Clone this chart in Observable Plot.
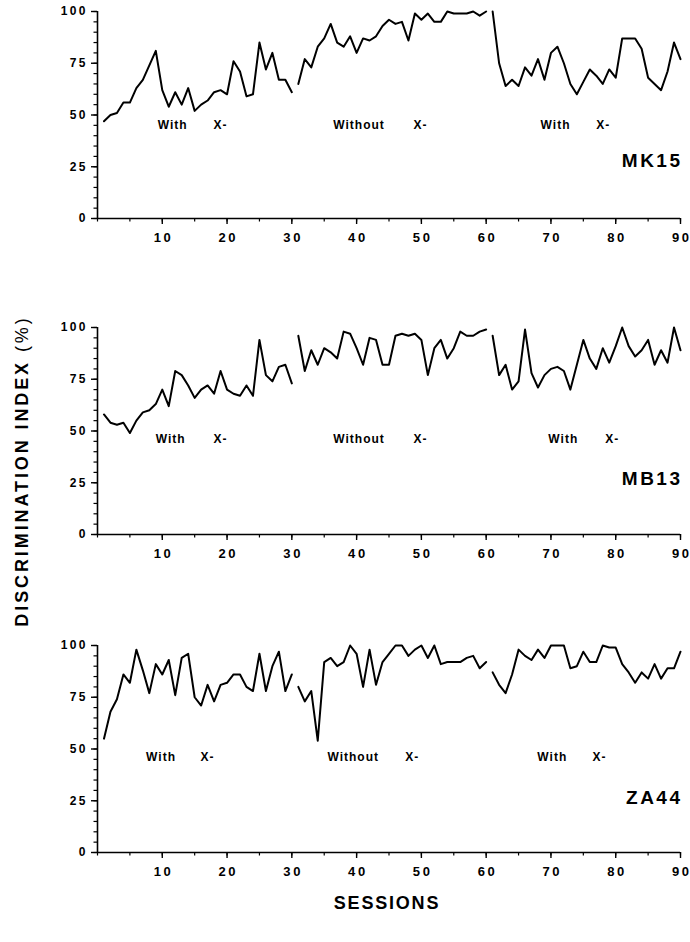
<!DOCTYPE html>
<html><head><meta charset="utf-8">
<script src="https://cdn.jsdelivr.net/npm/d3@7"></script>
<script src="https://cdn.jsdelivr.net/npm/@observablehq/plot@0.6"></script>
<style>
body{margin:0;background:#fff;}
#wrap{position:relative;width:690px;height:942px;overflow:hidden;font-family:"Liberation Sans",Arial,sans-serif;color:#000;}
.panel{position:absolute;left:0;}
.ylab{position:absolute;left:-178px;top:461px;width:400px;height:20px;line-height:20px;text-align:center;transform:rotate(-90deg);white-space:nowrap;font-weight:bold;font-size:18px;letter-spacing:2.9px;}
.ylab span{font-weight:normal;}
.xlab{position:absolute;left:187px;top:893px;width:400px;text-align:center;font-weight:bold;font-size:18px;letter-spacing:1.8px;}
</style>
</head><body>
<div id="wrap">
  <div class="ylab">DISCRIMINATION INDEX <span>(%)</span></div>
  <div class="xlab">SESSIONS</div>
</div>
<script>
// ---- data ----
const sessions = d3.range(1, 91);
const phaseNames = ["With X- (1)", "Without X-", "With X- (2)"];
const subjects = ["MK15", "MB13", "ZA44"];

const mk15 = [47,50,51,56,56,63,67,74,81,62,54,61,55,63,52,55,57,61,62,60,76,71,59,60,85,72,80,67,67,61,
              65,77,73,83,87,94,85,83,88,80,87,86,88,93,96,94,95,86,99,96,99,95,95,100,99,99,99,100,98,100,
              100,75,64,67,64,73,69,77,67,80,83,75,65,60,66,72,69,65,72,68,87,87,87,82,68,65,62,71,85,77];
const mb13 = [58,54,53,54,49,55,59,60,63,70,62,79,77,72,66,70,72,68,79,70,68,67,72,67,94,77,74,81,82,73,
              96,79,89,82,90,88,85,98,97,90,82,95,94,82,82,96,97,96,97,94,77,90,94,85,90,98,96,96,98,99,
              96,77,82,70,74,99,78,71,77,80,81,79,70,82,94,85,80,90,83,91,100,91,86,89,94,82,89,83,100,89];
const za44 = [55,68,74,86,82,98,88,77,91,86,93,76,94,96,75,71,81,73,81,82,86,86,80,78,96,78,90,97,78,86,
              80,73,78,54,92,94,90,92,100,96,80,98,81,92,96,100,100,95,98,100,94,100,91,92,92,92,94,95,89,92,
              87,81,77,86,98,95,93,98,94,100,100,100,89,90,97,92,92,100,99,99,91,87,82,87,84,91,84,89,89,97];

const yTicks = [0, 25, 50, 75, 100];
const yMinor = d3.range(0, 101, 5);
const xTicks = [10, 20, 30, 40, 50, 60, 70, 80, 90];
const xMinor = d3.range(0, 91, 5);

const annotTexts = ["With", "X-", "Without", "X-", "With", "X-"];
const annotX = {
  MK15: [9.3, 17.9, 36.4, 48.8, 68.4, 77.0],
  MB13: [9.0, 17.9, 36.4, 48.8, 69.6, 78.4],
  ZA44: [7.5, 15.9, 35.5, 47.5, 67.9, 76.4]
};
const annotY = {MK15: 45, MB13: 46, ZA44: 46};
const labelY = {MK15: 28, MB13: 27, ZA44: 26.6};
const seriesBySubject = {MK15: mk15, MB13: mb13, ZA44: za44};
const panelTop = {MK15: 0, MB13: 316, ZA44: 634};

const FONT = "Liberation Sans, Arial, Helvetica, sans-serif";
// spaced digits like the original typewriter-style tick labels
const spaced = d => String(d).split("").join("\u2009");

function makePanel(subj) {
  const vals = seriesBySubject[subj];
  const data = sessions.map((s, i) => ({session: s, value: vals[i], phase: phaseNames[Math.floor(i / 30)]}));
  const ann = annotTexts.map((t, i) => ({text: t, x: annotX[subj][i], y: annotY[subj]}));
  const svg = Plot.plot({
    width: 690, height: 258,
    marginTop: 11, marginBottom: 40, marginLeft: 97, marginRight: 10,
    x: {domain: [0, 90]},
    y: {domain: [0, 100]},
    style: {fontFamily: FONT, background: "transparent", overflow: "visible", color: "black"},
    marks: [
      Plot.axisY({ticks: yMinor, tickSize: 3.5, tickFormat: () => "", label: null, strokeWidth: 1.2}),
      Plot.axisY({ticks: yTicks, tickSize: 6, tickPadding: 6, tickFormat: spaced, label: null, fontSize: 12, fontWeight: "bold", strokeWidth: 1.4}),
      Plot.axisX({ticks: xMinor, tickSize: 3.5, tickFormat: () => "", label: null, strokeWidth: 1.2}),
      Plot.axisX({ticks: xTicks, tickSize: 6, tickPadding: 8, tickFormat: spaced, label: null, fontSize: 13, fontWeight: "bold", strokeWidth: 1.4}),
      Plot.ruleX([0], {y1: 0, y2: 100, stroke: "black", strokeWidth: 1.6}),
      Plot.ruleY([0], {x1: 0, x2: 90, stroke: "black", strokeWidth: 1.6}),
      Plot.line(data, {x: "session", y: "value", z: "phase", stroke: "black", strokeWidth: 2, strokeLinejoin: "round", curve: "linear"}),
      Plot.text(ann, {x: "x", y: "y", text: "text", textAnchor: "start", fontSize: 12, fontWeight: "bold", fill: "black"}),
      Plot.text([subj], {x: () => 90, y: () => labelY[subj], text: d => d, textAnchor: "end", fontSize: 19, fontWeight: "bold", fill: "black"})
    ]
  });
  const texts = svg.querySelectorAll('g[aria-label="text"]');
  if (texts[0]) texts[0].style.letterSpacing = "1px";
  if (texts[1]) { texts[1].style.letterSpacing = "2.5px"; texts[1].setAttribute("transform", (texts[1].getAttribute("transform") || "") + " translate(2,0)"); }
  svg.classList.add("panel");
  svg.style.position = "absolute";
  svg.style.top = panelTop[subj] + "px";
  svg.style.left = "0px";
  return svg;
}

const wrap = document.getElementById("wrap");
subjects.forEach(s => wrap.appendChild(makePanel(s)));
</script>
</body></html>
